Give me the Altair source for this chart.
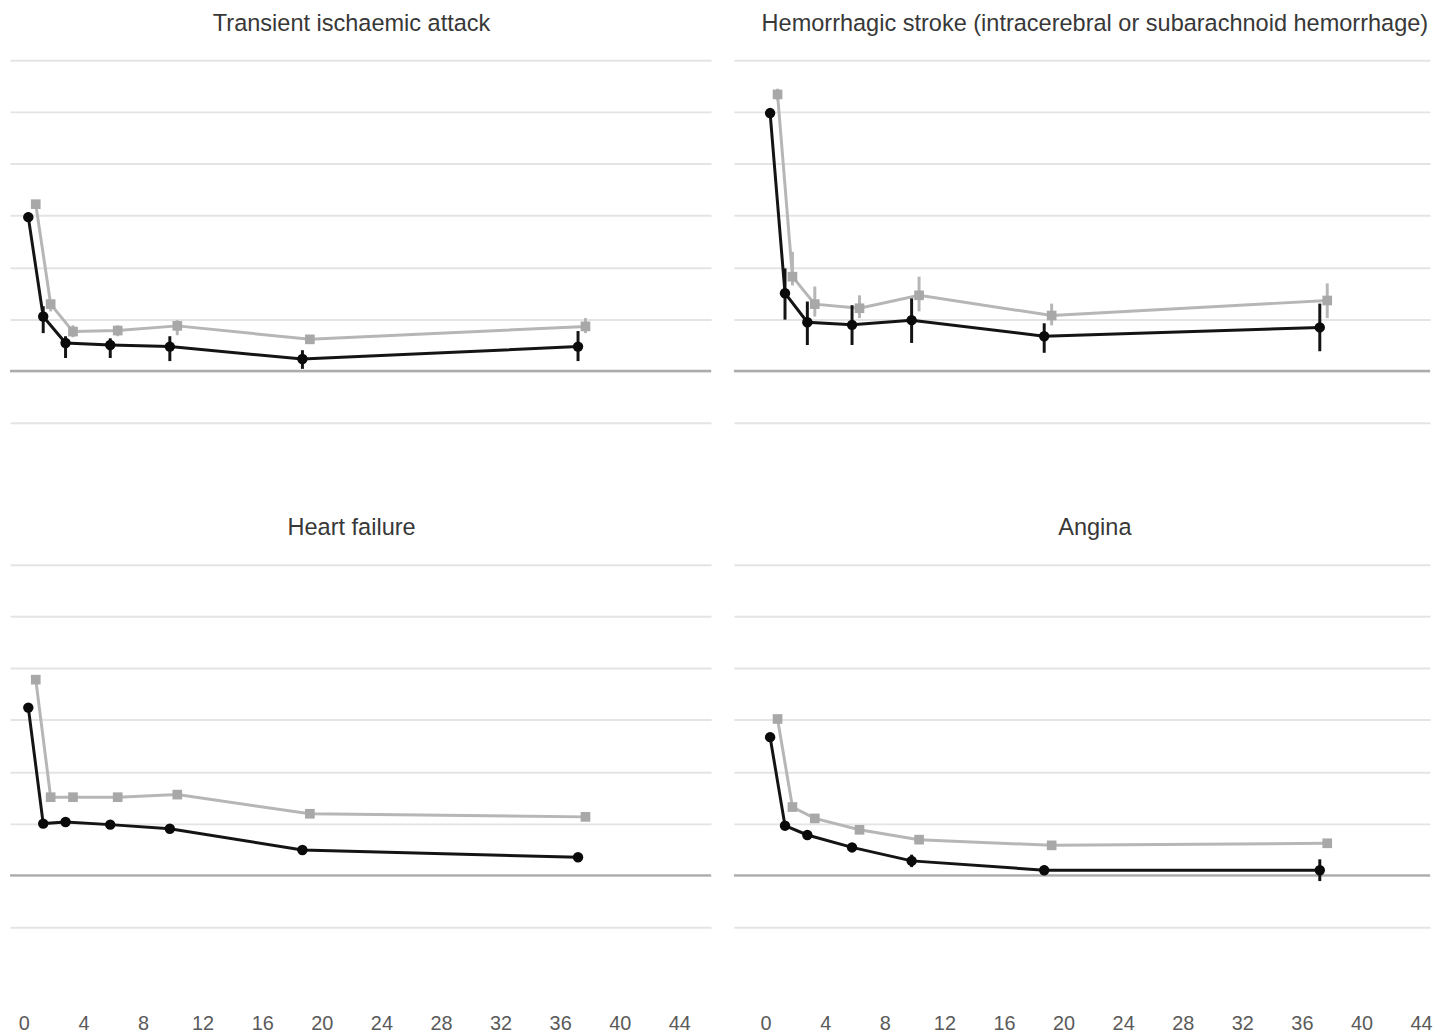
import altair as alt
import pandas as pd

# ---------------- data ----------------
panels = [
    "Transient ischaemic attack",
    "Hemorrhagic stroke (intracerebral or subarachnoid hemorrhage)",
    "Heart failure",
    "Angina",
]
x_ticks = [0, 4, 8, 12, 16, 20, 24, 28, 32, 36, 40, 44]
y_grid = [0, 1, 2, 3, 4, 5, 6, 7]
baseline = [1]

black_x = [0.3, 1.3, 2.8, 5.8, 9.8, 18.7, 37.2]
gray_x = [0.8, 1.8, 3.3, 6.3, 10.3, 19.2, 37.7]

# Transient ischaemic attack
tia_black = [3.97, 2.05, 1.54, 1.50, 1.47, 1.23, 1.47]
tia_black_lo = [3.88, 1.73, 1.25, 1.25, 1.19, 1.04, 1.19]
tia_black_hi = [4.06, 2.25, 1.67, 1.63, 1.67, 1.40, 1.77]
tia_gray = [4.22, 2.29, 1.76, 1.78, 1.87, 1.61, 1.86]
tia_gray_lo = [4.14, 2.15, 1.65, 1.67, 1.69, 1.55, 1.73]
tia_gray_hi = [4.30, 2.36, 1.88, 1.88, 1.98, 1.68, 2.02]

# Hemorrhagic stroke
hem_black = [5.98, 2.50, 1.94, 1.89, 1.98, 1.67, 1.84]
hem_black_lo = [5.90, 1.99, 1.50, 1.50, 1.54, 1.35, 1.38]
hem_black_hi = [6.06, 2.98, 2.34, 2.27, 2.40, 1.92, 2.30]
hem_gray = [6.34, 2.82, 2.29, 2.21, 2.46, 2.07, 2.36]
hem_gray_lo = [6.22, 2.65, 2.05, 2.02, 2.15, 1.88, 2.02]
hem_gray_hi = [6.45, 3.30, 2.63, 2.46, 2.82, 2.30, 2.69]

# Heart failure
hf_black = [4.24, 2.00, 2.03, 1.98, 1.90, 1.49, 1.35]
hf_black_lo = [4.16, 1.93, 1.97, 1.92, 1.83, 1.43, 1.28]
hf_black_hi = [4.32, 2.07, 2.09, 2.04, 1.97, 1.55, 1.42]
hf_gray = [4.78, 2.51, 2.51, 2.51, 2.56, 2.19, 2.13]
hf_gray_lo = [4.70, 2.45, 2.46, 2.46, 2.50, 2.14, 2.08]
hf_gray_hi = [4.86, 2.57, 2.56, 2.56, 2.62, 2.24, 2.18]

# Angina
ang_black = [3.67, 1.96, 1.78, 1.54, 1.28, 1.10, 1.10]
ang_black_lo = [3.58, 1.89, 1.71, 1.46, 1.16, 1.01, 0.89]
ang_black_hi = [3.76, 2.03, 1.85, 1.62, 1.40, 1.19, 1.31]
ang_gray = [4.02, 2.32, 2.10, 1.88, 1.69, 1.58, 1.62]
ang_gray_lo = [3.95, 2.26, 2.04, 1.82, 1.63, 1.53, 1.56]
ang_gray_hi = [4.09, 2.38, 2.16, 1.94, 1.75, 1.63, 1.68]

series_data = {
    panels[0]: (tia_black, tia_black_lo, tia_black_hi, tia_gray, tia_gray_lo, tia_gray_hi),
    panels[1]: (hem_black, hem_black_lo, hem_black_hi, hem_gray, hem_gray_lo, hem_gray_hi),
    panels[2]: (hf_black, hf_black_lo, hf_black_hi, hf_gray, hf_gray_lo, hf_gray_hi),
    panels[3]: (ang_black, ang_black_lo, ang_black_hi, ang_gray, ang_gray_lo, ang_gray_hi),
}

rows = []
for name, (by, blo, bhi, gy, glo, ghi) in series_data.items():
    for i in range(len(black_x)):
        rows.append(dict(panel=name, series="black", x=black_x[i], y=by[i], lo=blo[i], hi=bhi[i]))
        rows.append(dict(panel=name, series="gray", x=gray_x[i], y=gy[i], lo=glo[i], hi=ghi[i]))
df = pd.DataFrame(rows)
base_df = pd.DataFrame({"y": baseline})

BLACK = "#0a0a0a"
BLACK_LINE = "#141414"
GRAY = "#a8a8a8"
GRAY_LINE = "#b6b6b6"


def make_panel(name, xdomain, width, show_x, title_dx):
    if show_x:
        xaxis = alt.Axis(values=x_ticks, grid=False, ticks=False, domain=False,
                         labelPadding=87, labelFontSize=20, labelColor="#5a5a5a",
                         labelFont="Liberation Sans", title=None)
    else:
        xaxis = None
    yaxis = alt.Axis(values=y_grid, grid=True, gridColor="#e4e4e4", gridWidth=2,
                     labels=False, ticks=False, domain=False, title=None,
                     minExtent=0, maxExtent=0, offset=0)
    xs = alt.Scale(domain=xdomain, nice=False, zero=False)
    ys = alt.Scale(domain=[0, 7], nice=False, zero=False)
    xenc = alt.X("x:Q", scale=xs, axis=xaxis)

    data = alt.Chart(df).transform_filter(alt.FieldEqualPredicate(field="panel", equal=name))
    gray = data.transform_filter(alt.FieldEqualPredicate(field="series", equal="gray"))
    black = data.transform_filter(alt.FieldEqualPredicate(field="series", equal="black"))

    base_rule = alt.Chart(base_df).mark_rule(color="#acacac", strokeWidth=2.5).encode(
        y=alt.Y("y:Q", scale=ys, axis=yaxis)
    )
    g_line = gray.mark_line(color=GRAY_LINE, strokeWidth=3).encode(x=xenc, y=alt.Y("y:Q", scale=ys, axis=yaxis))
    g_err = gray.mark_rule(color=GRAY_LINE, strokeWidth=3).encode(
        x=xenc, y=alt.Y("lo:Q", scale=ys, axis=yaxis), y2="hi:Q")
    g_pt = gray.mark_point(shape="square", filled=True, color=GRAY, size=95, opacity=1).encode(
        x=xenc, y=alt.Y("y:Q", scale=ys, axis=yaxis))
    b_line = black.mark_line(color=BLACK_LINE, strokeWidth=3).encode(x=xenc, y=alt.Y("y:Q", scale=ys, axis=yaxis))
    b_err = black.mark_rule(color=BLACK_LINE, strokeWidth=3).encode(
        x=xenc, y=alt.Y("lo:Q", scale=ys, axis=yaxis), y2="hi:Q")
    b_pt = black.mark_point(shape="circle", filled=True, color=BLACK, size=110, opacity=1).encode(
        x=xenc, y=alt.Y("y:Q", scale=ys, axis=yaxis))

    return alt.layer(base_rule, g_line, g_err, g_pt, b_line, b_err, b_pt).properties(
        width=width, height=365,
        title=alt.TitleParams(name, fontSize=23.7, font="Liberation Sans", color="#383838",
                              fontWeight="normal", offset=25, anchor="middle", dx=title_dx),
    )


left_dom = [-0.93, 46.13]
right_dom = [-2.13, 44.6]

top = alt.hconcat(
    make_panel(panels[0], left_dom, 706, False, -9),
    make_panel(panels[1], right_dom, 701, False, 13),
    spacing=19,
)
bottom = alt.hconcat(
    make_panel(panels[2], left_dom, 706, True, -9),
    make_panel(panels[3], right_dom, 701, True, 13),
    spacing=19,
)

chart = alt.vconcat(top, bottom, spacing=94).properties(padding=0).configure_view(stroke=None)

chart.save("out.html", embed_options={"renderer": "svg", "actions": False})
